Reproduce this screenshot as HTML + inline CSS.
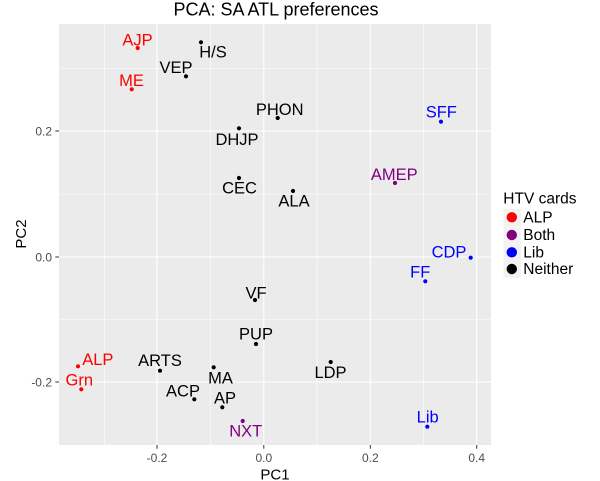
<!DOCTYPE html>
<html><head><meta charset="utf-8"><style>
html,body{margin:0;padding:0;background:#fff;}
svg{display:block;font-family:"Liberation Sans",Arial,sans-serif;}
</style></head><body>
<svg width="600" height="481" viewBox="0 0 600 481" xmlns="http://www.w3.org/2000/svg">
<rect x="0" y="0" width="600" height="481" fill="#fff"/>
<rect x="59" y="24" width="432" height="421" fill="#EBEBEB"/>
<g stroke="#fff" stroke-width="0.6">
<line x1="104.5" y1="24" x2="104.5" y2="445"/>
<line x1="210.6" y1="24" x2="210.6" y2="445"/>
<line x1="317" y1="24" x2="317" y2="445"/>
<line x1="423.5" y1="24" x2="423.5" y2="445"/>
<line x1="59" y1="68.5" x2="491" y2="68.5"/>
<line x1="59" y1="194" x2="491" y2="194"/>
<line x1="59" y1="319.5" x2="491" y2="319.5"/>
</g>
<g stroke="#fff" stroke-width="1.1">
<line x1="157" y1="24" x2="157" y2="445"/>
<line x1="263.8" y1="24" x2="263.8" y2="445"/>
<line x1="370.3" y1="24" x2="370.3" y2="445"/>
<line x1="476.7" y1="24" x2="476.7" y2="445"/>
<line x1="59" y1="131" x2="491" y2="131"/>
<line x1="59" y1="257" x2="491" y2="257"/>
<line x1="59" y1="382" x2="491" y2="382"/>
</g>
<g stroke="#333" stroke-width="1">
<line x1="55.3" y1="131" x2="59" y2="131"/>
<line x1="55.3" y1="257" x2="59" y2="257"/>
<line x1="55.3" y1="382" x2="59" y2="382"/>
<line x1="157" y1="445" x2="157" y2="448.7"/>
<line x1="263.8" y1="445" x2="263.8" y2="448.7"/>
<line x1="370.3" y1="445" x2="370.3" y2="448.7"/>
<line x1="476.7" y1="445" x2="476.7" y2="448.7"/>
</g>
<g fill="#4D4D4D" font-size="12" text-anchor="end">
<text x="52" y="135.3">0.2</text>
<text x="52" y="261.3">0.0</text>
<text x="52" y="386.3">-0.2</text>
</g>
<g fill="#4D4D4D" font-size="12" text-anchor="middle">
<text x="157" y="462">-0.2</text>
<text x="263.8" y="462">0.0</text>
<text x="370.3" y="462">0.2</text>
<text x="476.7" y="462">0.4</text>
</g>
<text x="275" y="479.3" font-size="15" text-anchor="middle" fill="#000">PC1</text>
<text transform="translate(26,234) rotate(-90)" font-size="15" text-anchor="middle" fill="#000">PC2</text>
<text x="276" y="15.5" font-size="18" text-anchor="middle" fill="#000">PCA: SA ATL preferences</text>

<g>
<circle cx="137.7" cy="48" r="2.1" fill="#FF0000"/>
<circle cx="131.7" cy="89.3" r="2.1" fill="#FF0000"/>
<circle cx="186" cy="76.3" r="2.1" fill="#000"/>
<circle cx="201" cy="42.3" r="2.1" fill="#000"/>
<circle cx="277.7" cy="118" r="2.1" fill="#000"/>
<circle cx="239" cy="128.3" r="2.1" fill="#000"/>
<circle cx="239" cy="178" r="2.1" fill="#000"/>
<circle cx="293" cy="191" r="2.1" fill="#000"/>
<circle cx="441" cy="121.7" r="2.1" fill="#0000FF"/>
<circle cx="395" cy="183" r="2.1" fill="#800080"/>
<circle cx="470.7" cy="257.7" r="2.1" fill="#0000FF"/>
<circle cx="425.3" cy="281.3" r="2.1" fill="#0000FF"/>
<circle cx="255" cy="300" r="2.1" fill="#000"/>
<circle cx="256" cy="344" r="2.1" fill="#000"/>
<circle cx="78" cy="366.3" r="2.1" fill="#FF0000"/>
<circle cx="81.3" cy="389.3" r="2.1" fill="#FF0000"/>
<circle cx="160" cy="370.7" r="2.1" fill="#000"/>
<circle cx="213.7" cy="367.3" r="2.1" fill="#000"/>
<circle cx="194.3" cy="399.3" r="2.1" fill="#000"/>
<circle cx="222.3" cy="407.3" r="2.1" fill="#000"/>
<circle cx="242.7" cy="421" r="2.1" fill="#800080"/>
<circle cx="330.7" cy="362" r="2.1" fill="#000"/>
<circle cx="427.3" cy="426.7" r="2.1" fill="#0000FF"/>
</g>

<g font-size="16.5" text-anchor="middle">
<text x="137.5" y="45.7" fill="#FF0000">AJP</text>
<text x="213" y="57.3" fill="#000">H/S</text>
<text x="176" y="73" fill="#000">VEP</text>
<text x="131.5" y="86" fill="#FF0000">ME</text>
<text x="279.7" y="115" fill="#000">PHON</text>
<text x="237" y="145" fill="#000">DHJP</text>
<text x="239.5" y="193.3" fill="#000">CEC</text>
<text x="294" y="206.7" fill="#000">ALA</text>
<text x="441.3" y="117.7" fill="#0000FF">SFF</text>
<text x="394.3" y="180" fill="#800080">AMEP</text>
<text x="449" y="257.3" fill="#0000FF">CDP</text>
<text x="420.2" y="277.7" fill="#0000FF">FF</text>
<text x="256" y="298.3" fill="#000">VF</text>
<text x="256" y="339.3" fill="#000">PUP</text>
<text x="97.8" y="365" fill="#FF0000">ALP</text>
<text x="79.3" y="385.7" fill="#FF0000">Grn</text>
<text x="160" y="366" fill="#000">ARTS</text>
<text x="220.5" y="383.7" fill="#000">MA</text>
<text x="183" y="396.3" fill="#000">ACP</text>
<text x="225" y="403.7" fill="#000">AP</text>
<text x="245.7" y="436.7" fill="#800080">NXT</text>
<text x="330.5" y="378" fill="#000">LDP</text>
<text x="427.7" y="422.7" fill="#0000FF">Lib</text>
</g>

<text x="503.3" y="203.3" font-size="15.5" fill="#000">HTV cards</text>
<g>
<rect x="503.5" y="208.7" width="17.3" height="17.3" fill="#F2F2F2"/>
<rect x="503.5" y="226.3" width="17.3" height="17.3" fill="#F2F2F2"/>
<rect x="503.5" y="243.7" width="17.3" height="17.3" fill="#F2F2F2"/>
<rect x="503.5" y="260.4" width="17.3" height="17.3" fill="#F2F2F2"/>
<circle cx="511.8" cy="217.3" r="5.2" fill="#FF0000"/>
<circle cx="511.8" cy="235" r="5.2" fill="#800080"/>
<circle cx="511.8" cy="252.3" r="5.2" fill="#0000FF"/>
<circle cx="511.8" cy="269" r="5.2" fill="#000"/>
</g>
<g font-size="15.5" fill="#000">
<text x="523.3" y="222.5">ALP</text>
<text x="523.3" y="240">Both</text>
<text x="523.3" y="257.5">Lib</text>
<text x="523.3" y="274.2">Neither</text>
</g>
</svg>
</body></html>
